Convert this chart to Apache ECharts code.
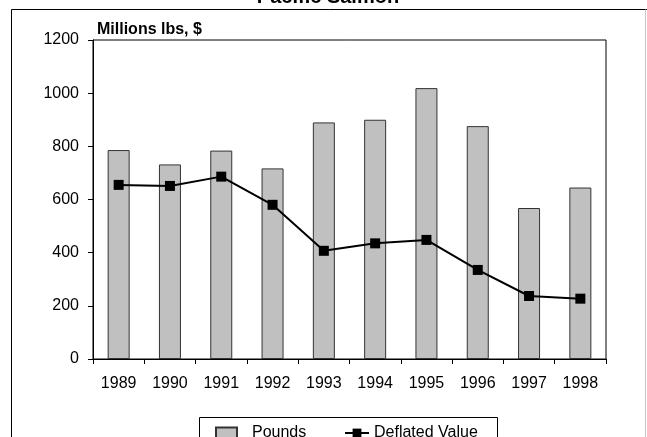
<!DOCTYPE html>
<html>
<head>
<meta charset="utf-8">
<script src="https://cdn.jsdelivr.net/npm/echarts@6/dist/echarts.min.js"></script>
<style>
  html, body { margin: 0; padding: 0; background: #fff; }
  #chart { width: 647px; height: 437px; }
</style>
</head>
<body>
<div id="chart"></div>
<script>
// Pacific salmon landings: pounds and deflated value, 1989-1998
const years = ['1989', '1990', '1991', '1992', '1993', '1994', '1995', '1996', '1997', '1998'];
const pounds = [786, 732, 784, 717, 890, 900, 1019, 876, 568, 645];
const deflatedValue = [655, 651, 686, 580, 407, 435, 448, 335, 237, 227];

const FONT = '"Liberation Sans", Arial, sans-serif';

const chart = echarts.init(document.getElementById('chart'), null, { renderer: 'canvas' });

chart.setOption({
  animation: false,
  backgroundColor: '#ffffff',
  title: {
    text: 'Pacific Salmon',
    left: 328,
    textAlign: 'center',
    top: -13,
    padding: 0,
    textStyle: { fontFamily: FONT, fontSize: 20, fontWeight: 'bold', color: '#000' }
  },
  grid: {
    left: 93, right: 41, top: 40, bottom: 78,
    show: true, borderColor: '#000', borderWidth: 1, backgroundColor: 'transparent'
  },
  xAxis: {
    type: 'category',
    data: years,
    boundaryGap: true,
    axisLine: { lineStyle: { color: '#000', width: 1 } },
    axisTick: { show: true, length: 5, lineStyle: { color: '#000' } },
    axisLabel: { margin: 17, fontFamily: FONT, fontSize: 16, color: '#000' },
    splitLine: { show: false }
  },
  yAxis: {
    type: 'value',
    min: 0, max: 1200, interval: 200,
    axisLine: { show: true, lineStyle: { color: '#000', width: 1 } },
    axisTick: { show: true, length: 5, lineStyle: { color: '#000' } },
    axisLabel: {
      margin: 14, fontFamily: FONT, fontSize: 16, color: '#000',
      formatter: v => String(v)
    },
    splitLine: { show: false }
  },
  legend: [
    {
      data: [{ name: 'Pounds', icon: 'rect' }],
      left: 215, top: 425, padding: 0,
      itemWidth: 21, itemHeight: 11,
      textStyle: { fontFamily: FONT, fontSize: 16, color: '#000', padding: [0, 0, 0, 10] }
    },
    {
      data: ['Deflated Value'],
      left: 344, top: 425, padding: 0,
      itemWidth: 24, itemHeight: 11,
      textStyle: { fontFamily: FONT, fontSize: 16, color: '#000' }
    }
  ],
  graphic: [
    // outer chart frame
    { type: 'line', shape: { x1: 11.5, y1: 9.5, x2: 647, y2: 9.5 }, style: { stroke: '#000', lineWidth: 1 }, silent: true },
    { type: 'line', shape: { x1: 11.5, y1: 9.5, x2: 11.5, y2: 437 }, style: { stroke: '#000', lineWidth: 1 }, silent: true },
    { type: 'line', shape: { x1: 645.5, y1: 9.5, x2: 645.5, y2: 437 }, style: { stroke: '#c8c8c8', lineWidth: 1 }, silent: true },
    // legend frame
    { type: 'rect', shape: { x: 199.5, y: 417.5, width: 298, height: 40 }, style: { fill: 'none', stroke: '#000', lineWidth: 1 }, silent: true },
    // unit label above the value axis
    {
      type: 'text', left: 97, top: 22, silent: true,
      style: { text: 'Millions lbs, $', font: 'bold 16px ' + FONT, fill: '#000' }
    }
  ],
  series: [
    {
      name: 'Pounds',
      type: 'bar',
      data: pounds,
      barWidth: 22,
      itemStyle: { color: '#c0c0c0', borderColor: '#333', borderWidth: 1 },
      z: 2
    },
    {
      name: 'Deflated Value',
      type: 'line',
      data: deflatedValue,
      symbol: 'rect',
      symbolSize: 10,
      lineStyle: { color: '#000', width: 2 },
      itemStyle: { color: '#000' },
      z: 3
    }
  ]
});
</script>
</body>
</html>
